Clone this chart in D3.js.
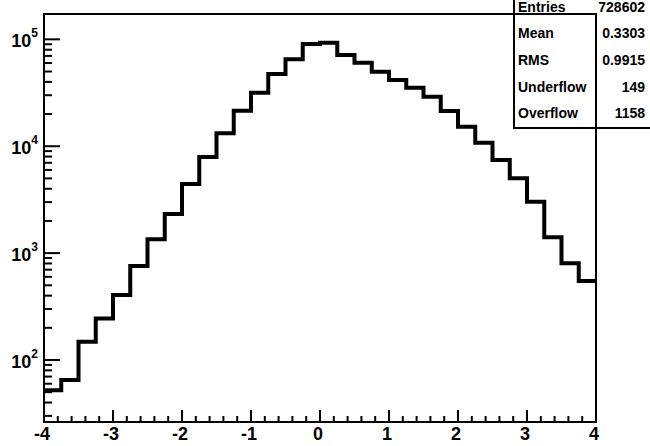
<!DOCTYPE html>
<html>
<head>
<meta charset="utf-8">
<script src="https://cdn.jsdelivr.net/npm/d3@7"></script>
<style>
  body { margin: 0; background: #fff; }
  svg text { font-family: "Liberation Sans", Arial, Helvetica, sans-serif; font-weight: bold; fill: #000; }
</style>
</head>
<body>
<div id="chart"></div>
<script>
// histogram: 32 bins of width 0.25 from -4 to 4
var xMin = -4, xMax = 4;
var counts = [52, 65, 148, 245, 406, 757, 1346, 2321,
              4430, 7920, 13200, 21500, 31660, 47350, 65000, 90400,
              93000, 71300, 60400, 49800, 41600, 35300, 29000, 21400,
              15200, 10800, 7430, 5010, 3027, 1406, 803, 548];

var xTickLabels = [-4, -3, -2, -1, 0, 1, 2, 3, 4];
var yDecades = [2, 3, 4, 5];          // 10^2 .. 10^5
var yRange = [26.3, 172600];          // visible log range

var statLabels = ["Entries", "Mean", "RMS", "Underflow", "Overflow"];
var statValues = ["728602", "0.3303", "0.9915", "149", "1158"];

var W = 650, H = 446;
var margin = {top: 14, right: 54, bottom: 24, left: 44};

var svg = d3.select("#chart").append("svg")
    .attr("width", W)
    .attr("height", H);

var x = d3.scaleLinear().domain([xMin, xMax]).range([margin.left, W - margin.right]);
var y = d3.scaleLog().domain(yRange).range([H - margin.bottom, margin.top]);

var binW = (xMax - xMin) / counts.length;

//histogram outline (step line, no drop at ends)
var pathD = "";
counts.forEach(function(c, i){
    var x0 = x(xMin + i*binW), x1 = x(xMin + (i+1)*binW);
    pathD += (i === 0 ? "M" + x0 + "," + y(c) : "V" + y(c)) + "H" + x1;
});
svg.append("path")
    .attr("d", pathD)
    .style("fill", "none")
    .style("stroke", "#000")
    .style("stroke-width", 4)
    .style("stroke-linejoin", "miter");

//stats box (top part runs off the canvas)
var box = svg.append("g");
box.append("rect")
    .attr("x", 514).attr("y", -30)
    .attr("width", 200).attr("height", 158)
    .style("fill", "#fff")
    .style("stroke", "#000")
    .style("stroke-width", 2);

var rowH = 26.7, firstRow = 6.5;
box.selectAll(".statLabel")
    .data(statLabels)
    .join("text")
    .attr("class", "statLabel")
    .attr("x", 518)
    .attr("y", function(d, i){ return firstRow + i*rowH + 5; })
    .style("font-size", "14px")
    .text(function(d){ return d; });
box.selectAll(".statValue")
    .data(statValues)
    .join("text")
    .attr("class", "statValue")
    .attr("x", 645)
    .attr("y", function(d, i){ return firstRow + i*rowH + 5; })
    .attr("text-anchor", "end")
    .style("font-size", "14px")
    .text(function(d){ return d; });

//frame
svg.append("rect")
    .attr("x", x(xMin)).attr("y", y(yRange[1]))
    .attr("width", x(xMax) - x(xMin))
    .attr("height", y(yRange[0]) - y(yRange[1]))
    .style("fill", "none")
    .style("stroke", "#000")
    .style("stroke-width", 2);

var axisG = svg.append("g").style("stroke", "#000").style("stroke-width", 2);

//x ticks (inward), 5 subdivisions per unit
var xBottom = y(yRange[0]);
d3.range(0, 41).forEach(function(k){
    var v = xMin + k*0.2;
    var major = (k % 5 === 0);
    axisG.append("line")
        .attr("x1", x(v)).attr("x2", x(v))
        .attr("y1", xBottom).attr("y2", xBottom - (major ? 12 : 6));
});
svg.selectAll(".xLabel")
    .data(xTickLabels)
    .join("text")
    .attr("class", "xLabel")
    .attr("x", function(d){ return x(d) - 2; })
    .attr("y", 440)
    .attr("text-anchor", "middle")
    .style("font-size", "18px")
    .text(function(d){ return d; });

//y ticks: decades major, 2..9 minor
var yLeft = x(xMin);
[1, 2, 3, 4, 5].forEach(function(dec){
    d3.range(1, 10).forEach(function(m){
        var v = m * Math.pow(10, dec);
        if (v < yRange[0] || v > yRange[1]) return;
        axisG.append("line")
            .attr("x1", yLeft).attr("x2", yLeft + (m === 1 ? 16 : 8))
            .attr("y1", y(v)).attr("y2", y(v));
    });
});
var yLab = svg.selectAll(".yLabel")
    .data(yDecades)
    .join("text")
    .attr("class", "yLabel")
    .attr("x", 38)
    .attr("y", function(d){ return y(Math.pow(10, d)) + 8; })
    .attr("text-anchor", "end")
    .style("font-size", "18px");
yLab.append("tspan").text("10");
yLab.append("tspan")
    .attr("dy", -10)
    .style("font-size", "12px")
    .text(function(d){ return d; });
</script>
</body>
</html>
